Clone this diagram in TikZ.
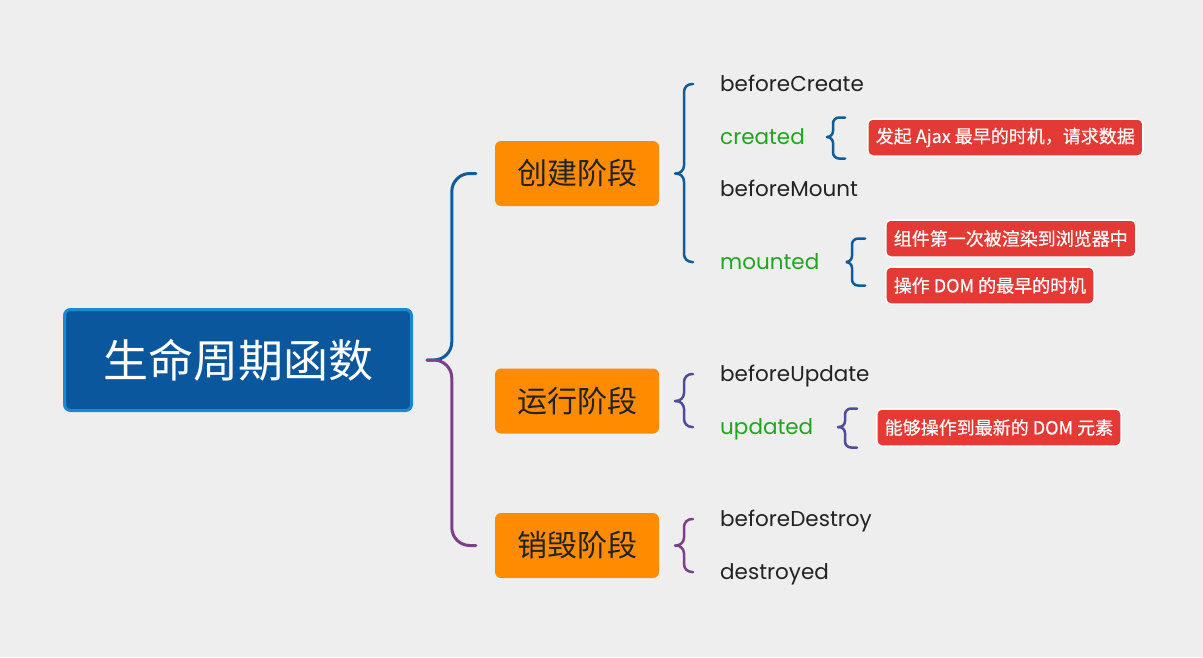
\documentclass[tikz,border=0pt]{standalone}
\usepackage{fontspec}
\setmainfont{Poppins}
\newfontfamily\cjk{Noto Sans CJK SC}
\newfontfamily\cjknote[FakeBold=0.6]{Noto Sans CJK SC}
\usetikzlibrary{calc}

\definecolor{bggray}{HTML}{EEEEEE}
\definecolor{rootblue}{HTML}{0A579E}
\definecolor{rootedge}{HTML}{1B89D2}
\definecolor{stageorange}{HTML}{FF8C00}
\definecolor{notered}{HTML}{E43A36}
\definecolor{hookgreen}{HTML}{1FA61F}
\definecolor{textdark}{HTML}{222222}
\definecolor{braceblue}{HTML}{0E5C9C}
\definecolor{braceindigo}{HTML}{504C9C}
\definecolor{bracepurple}{HTML}{7B3F8C}

\tikzset{
  root/.style={draw=rootedge, line width=3pt, fill=rootblue, rounded corners=6pt,
    minimum width=347pt, minimum height=101pt, text=white,
    font=\cjk\fontsize{45}{50}\selectfont},
  stage/.style={fill=stageorange, rounded corners=6pt, minimum width=164pt,
    minimum height=65pt, text=textdark, font=\cjk\fontsize{30}{34}\selectfont},
  hook/.style={anchor=west, inner sep=0pt, text=textdark, text height=15pt,
    text depth=0pt, font=\fontsize{21.5}{25}\selectfont},
  keyhook/.style={hook, text=hookgreen},
  note/.style={anchor=west, fill=notered, draw=white, line width=1.5pt,
    rounded corners=5pt, inner xsep=8pt, minimum height=37pt, text=white,
    font=\cjknote\fontsize{18}{21}\selectfont},
  mainbrace/.style={line width=3pt, line cap=round, rounded corners=18pt},
  subbrace/.style={line width=2.5pt, line cap=round, rounded corners=8pt},
  notebrace/.style={line width=2.5pt, line cap=round, rounded corners=6pt}
}

\begin{document}
\begin{tikzpicture}[x=1pt,y=-1pt]

\fill[bggray](0,0)rectangle(1203,657);
\useasboundingbox(0,0)rectangle(1203,657);

% root and stages
\node[root](root)at(238,360){生命周期函数};
\node[stage](s1)at(577,173.5){创建阶段};
\node[stage](s2)at(577,401){运行阶段};
\node[stage](s3)at(577,545.5){销毁阶段};

% hooks
\node[hook](bc)at(720,84){beforeCreate};
\node[keyhook](cr)at(720,137){created};
\node[hook](bm)at(720,189){beforeMount};
\node[keyhook](mt)at(720,262){mounted};
\node[hook](bu)at(720,374){beforeUpdate};
\node[keyhook](ud)at(720,427){updated};
\node[hook](bd)at(720,519){beforeDestroy};
\node[hook](ds)at(720,572){destroyed};

% notes
\node[note](n1)at(867,137.5){发起 Ajax 最早的时机，请求数据};
\node[note](m1)at(885,238.5){组件第一次被渲染到浏览器中};
\node[note](m2)at(885,285.5){操作 DOM 的最早的时机};
\node[note](u1)at(876,427.5){能够操作到最新的 DOM 元素};

% root brace
\draw[mainbrace,braceblue]($(root.east)+(14,0)$)-|($(s1.west)+(-43,0)$)--($(s1.west)+(-19,0)$);
\draw[mainbrace,bracepurple]($(root.east)+(14,0)$)-|($(s3.west)+(-43,0)$)--($(s3.west)+(-19,0)$);

% stage braces
\draw[subbrace,braceblue]($(s1.east)+(16,0)$)-|($(bc.west)+(-36,0)$)--($(bc.west)+(-27,0)$);
\draw[subbrace,braceblue]($(s1.east)+(16,0)$)-|($(mt.west)+(-36,0)$)--($(mt.west)+(-27,0)$);
\draw[subbrace,braceindigo]($(s2.east)+(16,0)$)-|($(bu.west)+(-36,0)$)--($(bu.west)+(-27,0)$);
\draw[subbrace,braceindigo]($(s2.east)+(16,0)$)-|($(ud.west)+(-36,0)$)--($(ud.west)+(-27,0)$);
\draw[subbrace,bracepurple]($(s3.east)+(16,0)$)-|($(bd.west)+(-36,0)$)--($(bd.west)+(-27,0)$);
\draw[subbrace,bracepurple]($(s3.east)+(16,0)$)-|($(ds.west)+(-36,0)$)--($(ds.west)+(-27,0)$);

% note braces
\draw[notebrace,braceblue]($(cr.east-|n1.west)+(-40,0)$)-|($(n1.west)+(-34,-20)$)--($(n1.west)+(-22,-20)$);
\draw[notebrace,braceblue]($(cr.east-|n1.west)+(-40,0)$)-|($(n1.west)+(-34,21)$)--($(n1.west)+(-22,21)$);
\draw[notebrace,braceblue]($(mt.east-|m1.west)+(-38,0)$)-|($(m1.west)+(-33,0)$)--($(m1.west)+(-20,0)$);
\draw[notebrace,braceblue]($(mt.east-|m1.west)+(-38,0)$)-|($(m2.west)+(-33,0)$)--($(m2.west)+(-20,0)$);
\draw[notebrace,braceindigo]($(ud.east-|u1.west)+(-38,0)$)-|($(u1.west)+(-31,-19)$)--($(u1.west)+(-19,-19)$);
\draw[notebrace,braceindigo]($(ud.east-|u1.west)+(-38,0)$)-|($(u1.west)+(-31,20)$)--($(u1.west)+(-19,20)$);

\end{tikzpicture}
\end{document}
